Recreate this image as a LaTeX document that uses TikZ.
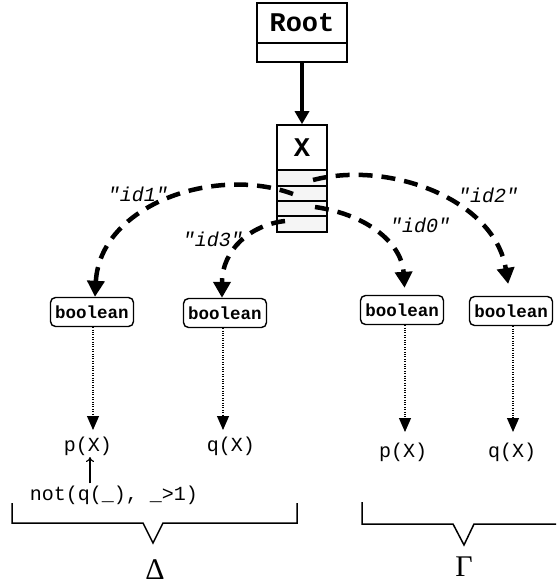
\documentclass[tikz,border=0pt]{standalone}
\usepackage{fontspec}
\setmonofont{Liberation Mono}
\newfontfamily\grkfont{Liberation Serif}
\usetikzlibrary{arrows.meta}
\begin{document}
\begin{tikzpicture}[x=1pt,y=-1pt,
  box/.style={draw,line width=1.6pt,inner sep=0pt},
  bool/.style={draw,line width=1.4pt,rounded corners=5pt,minimum width=83pt,minimum height=29pt,inner sep=0pt,font=\fontsize{17.5}{20}\selectfont\ttfamily\bfseries},
  lbl/.style={inner sep=0pt,font=\fontsize{20}{24}\selectfont\ttfamily\itshape},
  term/.style={inner sep=0pt,font=\fontsize{20}{24}\selectfont\ttfamily},
  dasharc/.style={line width=4.5pt,dash pattern=on 14pt off 9pt,-{Triangle[length=16pt,width=17pt]}},
  dotarr/.style={line width=1.1pt,dash pattern=on 1pt off 1.4pt,-{Triangle[length=14pt,width=12pt]}},
  brace/.style={line width=1.5pt,line join=miter},
  greek/.style={inner sep=0pt,anchor=base,font=\grkfont\fontsize{30}{32}\selectfont}
]
\useasboundingbox (0,0) rectangle (556,588);
% Root box
\node[box,minimum width=90pt,minimum height=59pt] (root) at (302,32.5) {};
\node[inner sep=0pt,font=\fontsize{27}{30}\selectfont\ttfamily\bfseries] (rootlbl) at (302,23) {Root};
\draw[line width=1.6pt] (root.west |- 0,43) -- (root.east |- 0,43);
% X box
\fill[gray!8] (277,170) rectangle (327,232);
\node[box,minimum width=50pt,minimum height=107pt] (xbox) at (302,178.5) {};
\node[inner sep=0pt,font=\fontsize{27}{30}\selectfont\ttfamily\bfseries] (xlbl) at (302,148) {X};
\foreach \yy in {170,186,201,216}
  \draw[line width=1.6pt] (xbox.west |- 0,\yy) -- (xbox.east |- 0,\yy);
\coordinate (c1) at (313,180);
\coordinate (c2) at (293,194);
\coordinate (c3) at (315,207);
\coordinate (c4) at (285,221);
% arrow root -> X
\draw[line width=3.5pt,-{Triangle[length=13pt,width=14pt]}] (root.south) -- (xbox.north);
% boolean boxes
\node[bool] (b1) at (92,312) {boolean};
\node[bool] (b2) at (225,313) {boolean};
\node[bool] (b3) at (402,310) {boolean};
\node[bool] (b4) at (511,311) {boolean};
% dashed arcs
\draw[dasharc] (c2) .. controls (215,165) and (100,205) .. (b1.north -| 95,0);
\draw[dasharc] (c4) .. controls (250,225) and (222,250) .. (b2.north -| 222,0);
\draw[dasharc,shorten >=7pt] (c3) .. controls (370,215) and (402,245) .. (b3.north -| 405,0);
\draw[dasharc,shorten >=12pt] (c1) .. controls (390,160) and (495,200) .. (b4.north -| 510,0);
% labels
\node[lbl] (l1) at (138,194) {"id1"};
\node[lbl] (l3) at (213,239) {"id3"};
\node[lbl] (l0) at (420,225) {"id0"};
\node[lbl] (l2) at (488,195) {"id2"};
% terms
\node[term] (p1) at (88,446) {p(X)};
\node[term] (q1) at (231,446) {q(X)};
\node[term] (p2) at (403,452) {p(X)};
\node[term] (q2) at (512,452) {q(X)};
\node[term] (neg) at (114,495) {not(q(\_), \_>1)};
% dotted arrows
\coordinate (t1) at (93,430);
\coordinate (t2) at (223,430);
\coordinate (t3) at (405,432);
\coordinate (t4) at (513,432);
\draw[dotarr] (b1.south -| t1) -- (t1);
\draw[dotarr] (b2.south -| t2) -- (t2);
\draw[dotarr] (b3.south -| t3) -- (t3);
\draw[dotarr] (b4.south -| t4) -- (t4);
% up arrow
\draw[line width=1.1pt,-{To[length=5pt,width=8pt]}] (neg.north -| 90,0) ++(0,-2) -- (90,457);
% braces
\draw[brace] (12,503) -- (12,523) -- (143,523) -- (153,543) -- (163,523) -- (297,523) -- (297,503);
\draw[brace] (362,502) -- (362,524) -- (453,524) -- (464,545) -- (474,524) -- (556,524);
\node[greek] (delta) at (155,579) {Δ};
\node[greek] (gamma) at (464,576) {Γ};
\end{tikzpicture}
\end{document}
